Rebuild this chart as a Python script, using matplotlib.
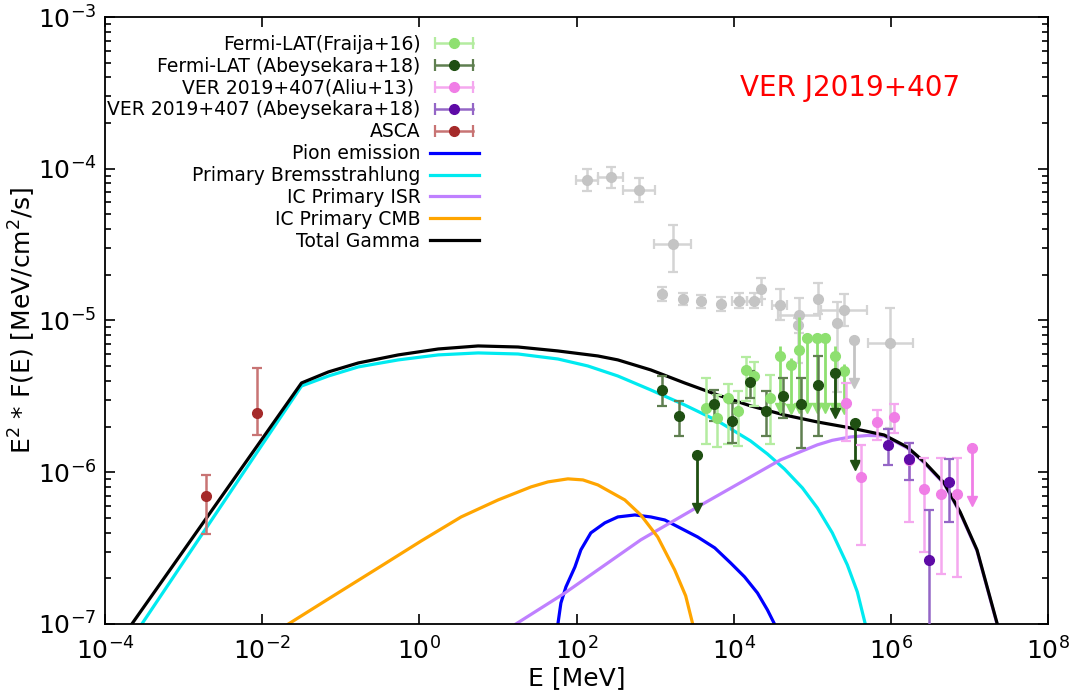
import numpy as np
import matplotlib.pyplot as plt
from matplotlib.lines import Line2D
from matplotlib.legend_handler import HandlerLine2D
from matplotlib.ticker import LogLocator, NullLocator

# model curves: log10(E/MeV), log10(E^2 F)
pion_logE = [1.761, 1.799, 1.863, 1.977, 2.053, 2.18, 2.358, 2.523, 2.739, 2.942, 3.12, 3.538, 3.756, 3.957, 4.135, 4.299, 4.426, 4.515]
pion_logF = [-7.0, -6.862, -6.756, -6.625, -6.512, -6.40, -6.334, -6.295, -6.282, -6.295, -6.315, -6.427, -6.499, -6.598, -6.69, -6.796, -6.908, -7.0]

brems_logE = [-3.53, -1.50, -1.157, -0.777, -0.269, 0.239, 0.746, 1.254, 1.761, 2.142, 2.523, 2.942, 3.373, 3.792, 4.211, 4.426, 4.642, 4.871, 5.061, 5.251, 5.442, 5.569, 5.67]
brems_logF = [-7.0, -5.432, -5.366, -5.306, -5.26, -5.227, -5.214, -5.221, -5.254, -5.30, -5.366, -5.458, -5.557, -5.662, -5.794, -5.88, -5.979, -6.104, -6.236, -6.40, -6.611, -6.789, -7.0]

isr_logE = [1.228, 1.85, 2.815, 3.538, 4.591, 5.06, 5.25, 5.48, 5.70, 5.911, 6.203, 6.419, 6.673, 6.876, 7.091, 7.345]
isr_logF = [-7.0, -6.796, -6.446, -6.229, -5.919, -5.82, -5.79, -5.768, -5.758, -5.761, -5.840, -5.938, -6.077, -6.268, -6.518, -6.999]

cmb_logE = [-1.665, -1.157, -0.485, 0.023, 0.53, 1.0, 1.419, 1.635, 1.888, 2.079, 2.269, 2.612, 2.815, 3.03, 3.246, 3.386, 3.475]
cmb_logF = [-7.0, -6.835, -6.618, -6.453, -6.295, -6.183, -6.097, -6.064, -6.044, -6.051, -6.084, -6.183, -6.282, -6.427, -6.644, -6.815, -7.0]

tot_logE = [-3.657, -1.50, -1.157, -0.777, -0.269, 0.239, 0.746, 1.254, 1.761, 2.269, 2.523, 2.942, 3.373, 3.792, 4.211, 4.642, 5.061, 5.48, 5.911, 6.203, 6.419, 6.673, 6.876, 7.091, 7.345]
tot_logF = [-7.0, -5.412, -5.339, -5.28, -5.227, -5.188, -5.168, -5.175, -5.201, -5.234, -5.26, -5.326, -5.412, -5.491, -5.563, -5.623, -5.669, -5.708, -5.755, -5.834, -5.932, -6.071, -6.262, -6.512, -6.993]

# grey points (no legend entry)
gray_logE = [2.13, 2.43, 2.79, 3.22, 3.09, 3.35, 3.58, 3.83, 4.07, 4.26, 4.34, 4.58, 4.83, 4.81, 5.07, 5.31, 5.40, 5.99]
gray_logF = [-4.075, -4.056, -4.141, -4.495, -4.823, -4.856, -4.875, -4.889, -4.869, -4.869, -4.79, -4.895, -4.967, -5.033, -4.856, -5.02, -4.928, -5.15]
gray_dlo = [0.075, 0.072, 0.079, 0.185, 0.052, 0.044, 0.046, 0.046, 0.05, 0.05, 0.07, 0.10, 0.115, 0.25, 0.10, 0.45, 0.11, 0.56]
gray_dhi = [0.072, 0.066, 0.079, 0.125, 0.046, 0.04, 0.04, 0.046, 0.05, 0.05, 0.07, 0.10, 0.115, 0.05, 0.10, 0.14, 0.10, 0.23]
gray_dx = [0.14, 0.16, 0.2, 0.24, 0, 0, 0, 0, 0.1, 0.1, 0, 0.1, 0.27, 0, 0, 0, 0.29, 0.29]
grayul_logE = [5.53]
grayul_logF = [-5.131]
grayul_len = [0.28]

# Fermi-LAT (Fraija+16)
fr_logE = [3.64, 3.79, 3.92, 4.05, 4.15, 4.26, 4.46]
fr_logF = [-5.577, -5.643, -5.511, -5.597, -5.328, -5.367, -5.511]
fr_dlo = [0.24, 0.19, 0.30, 0.23, 0.2, 0.2, 0.3]
fr_dhi = [0.2, 0.15, 0.09, 0.13, 0.09, 0.09, 0.15]
frul_logE = [4.59, 4.72, 4.83, 4.93, 5.06, 5.16, 5.29, 5.40]
frul_logF = [-5.236, -5.295, -5.197, -5.118, -5.118, -5.118, -5.236, -5.334]
frul_len = [0.34, 0.29, 0.38, 0.46, 0.46, 0.46, 0.34, 0.25]
frul_dhi = [0.07, 0.05, 0.22, 0.0, 0.0, 0.0, 0.07, 0.05]

# Fermi-LAT (Abeysekara+18)
ab_logE = [3.09, 3.30, 3.74, 3.98, 4.20, 4.41, 4.63, 4.85, 5.07]
ab_logF = [-5.459, -5.63, -5.551, -5.662, -5.407, -5.597, -5.498, -5.551, -5.426]
ab_dlo = [0.105, 0.131, 0.111, 0.145, 0.104, 0.164, 0.145, 0.288, 0.335]
ab_dhi = [0.092, 0.099, 0.092, 0.118, 0.073, 0.131, 0.118, 0.171, 0.19]
abul_logE = [3.53, 5.29, 5.54]
abul_logF = [-5.885, -5.348, -5.675]
abul_len = [0.35, 0.26, 0.28]

# VER 2019+407 (Aliu+13)
al_logE = [5.43, 5.62, 5.82, 6.03, 6.23, 6.42, 6.63, 6.84]
al_logF = [-5.544, -6.03, -5.669, -5.636, -5.918, -6.108, -6.141, -6.141]
al_dlo = [0.249, 0.452, 0.118, 0.105, 0.413, 0.42, 0.531, 0.551]
al_dhi = [0.131, 0.21, 0.079, 0.085, 0.111, 0.203, 0.236, 0.236]
alul_logE = [7.03]
alul_logF = [-5.839]
alul_len = [0.35]

# VER 2019+407 (Abeysekara+18)
va_logE = [5.96, 6.23, 6.74, 6.48]
va_logF = [-5.82, -5.911, -6.062, -6.58]
va_dlo = [0.131, 0.138, 0.269, 1.0]
va_dhi = [0.105, 0.104, 0.151, 0.334]

# ASCA
as_logE = [-2.718, -2.071]
as_logF = [-6.157, -5.61]
as_dlo = [0.25, 0.145]
as_dhi = [0.139, 0.297]

c_gray, e_gray = '#c4c4c4', '#d4d4d4'
c_fr, e_fr = '#8ee070', '#b4eca0'
c_ab, e_ab = '#1f4f12', '#5f7f50'
c_al, e_al = '#f07ee6', '#f5a8ef'
c_va, e_va = '#5e0aa6', '#9466c6'
c_as, e_as = '#a52a2a', '#c87474'


def points(ax, logE, logF, dlo, dhi, color, ecolor, dx=None, z=3):
    logE, logF = np.array(logE), np.array(logF)
    E, F = 10**logE, 10**logF
    yerr = [F - 10**(logF - np.array(dlo)), 10**(logF + np.array(dhi)) - F]
    xerr = None
    if dx is not None:
        dx = np.array(dx)
        xerr = [E - 10**(logE - dx), 10**(logE + dx) - E]
    ax.errorbar(E, F, yerr=yerr, xerr=xerr, fmt='o', color=color, ecolor=ecolor,
                ms=7, elinewidth=1.8, capsize=3.5, capthick=1.6, zorder=z)


def limits(ax, logE, logF, length, color, dhi=None, z=3):
    logE, logF = np.array(logE), np.array(logF)
    E, F = 10**logE, 10**logF
    low = 10**(logF - np.array(length))
    up = np.zeros(len(E)) if dhi is None else 10**(logF + np.array(dhi)) - F
    ax.errorbar(E, F, yerr=[F - low, up], fmt='o', color=color, ecolor=color,
                ms=7, elinewidth=2, capsize=0, zorder=z)
    ax.plot(E, low, 'v', color=color, ms=7, zorder=z)


fig = plt.figure(figsize=(10.82, 6.94), dpi=100)
ax = fig.add_axes([0.097, 0.101, 0.872, 0.8745])

ax.plot(10**np.array(pion_logE), 10**np.array(pion_logF), color='#0000ff', lw=2.3, zorder=2)
ax.plot(10**np.array(brems_logE), 10**np.array(brems_logF), color='#00eaf0', lw=2.3, zorder=2)
ax.plot(10**np.array(isr_logE), 10**np.array(isr_logF), color='#bf80ff', lw=2.3, zorder=2)
ax.plot(10**np.array(cmb_logE), 10**np.array(cmb_logF), color='#ffa500', lw=2.3, zorder=2)
ax.plot(10**np.array(tot_logE), 10**np.array(tot_logF), color='black', lw=2.3, zorder=2.5)

points(ax, gray_logE, gray_logF, gray_dlo, gray_dhi, c_gray, e_gray, dx=gray_dx, z=1)
limits(ax, grayul_logE, grayul_logF, grayul_len, c_gray, z=1)
points(ax, fr_logE, fr_logF, fr_dlo, fr_dhi, c_fr, e_fr)
limits(ax, frul_logE, frul_logF, frul_len, c_fr, dhi=frul_dhi)
points(ax, ab_logE, ab_logF, ab_dlo, ab_dhi, c_ab, e_ab)
limits(ax, abul_logE, abul_logF, abul_len, c_ab)
points(ax, al_logE, al_logF, al_dlo, al_dhi, c_al, e_al)
limits(ax, alul_logE, alul_logF, alul_len, c_al)
points(ax, va_logE, va_logF, va_dlo, va_dhi, c_va, e_va)
points(ax, as_logE, as_logF, as_dlo, as_dhi, c_as, e_as)

ax.set_xscale('log')
ax.set_yscale('log')
ax.set_xlim(1e-4, 1e8)
ax.set_ylim(1e-7, 1e-3)
ax.set_xticks([1e-4, 1e-2, 1e0, 1e2, 1e4, 1e6, 1e8])
ax.xaxis.set_minor_locator(NullLocator())
ax.yaxis.set_minor_locator(LogLocator(base=10, subs=np.arange(2, 10)))
ax.tick_params(which='both', direction='in', top=True, right=True, labelsize=18, width=1.2)
ax.tick_params(which='major', length=7)
ax.tick_params(axis='x', which='major', pad=10)
ax.tick_params(axis='y', which='major', pad=6)
ax.tick_params(which='minor', length=4)
for s in ax.spines.values():
    s.set_linewidth(1.3)
ax.set_xlabel('E [MeV]', fontsize=18, labelpad=1)
ax.set_ylabel('E$^2$ * F(E) [MeV/cm$^2$/s]', fontsize=18, labelpad=0)

ax.text(0.79, 0.883, 'VER J2019+407', color='red', fontsize=20,
        ha='center', va='center', transform=ax.transAxes)

# legend: label then handle, error-bar handles drawn horizontally
hmap = {}
handles = []
for c, e in [(c_fr, e_fr), (c_ab, e_ab), (c_al, e_al), (c_va, e_va), (c_as, e_as)]:
    bar = Line2D([], [], color=e, lw=1.8, marker='|', ms=9, mew=1.6)
    dot = Line2D([], [], color=c, ls='none', marker='o', ms=7)
    hmap[bar] = HandlerLine2D(numpoints=2)
    handles.append((bar, dot))
for c in ['#0000ff', '#00eaf0', '#bf80ff', '#ffa500', 'black']:
    handles.append(Line2D([], [], color=c, lw=2.3))
labels = ['Fermi-LAT(Fraija+16)', 'Fermi-LAT (Abeysekara+18)', 'VER 2019+407(Aliu+13) ',
          'VER 2019+407 (Abeysekara+18)', 'ASCA', 'Pion emission', 'Primary Bremsstrahlung',
          'IC Primary ISR', 'IC Primary CMB', 'Total Gamma']
ax.legend(handles, labels, handler_map=hmap, loc='upper right', bbox_to_anchor=(0.40, 0.977),
          frameon=False, markerfirst=False, fontsize=13.5, handlelength=2.6, handletextpad=0.5,
          labelspacing=0.155, borderpad=0.2, borderaxespad=0, numpoints=1)

fig.savefig('out.png', dpi=100)
